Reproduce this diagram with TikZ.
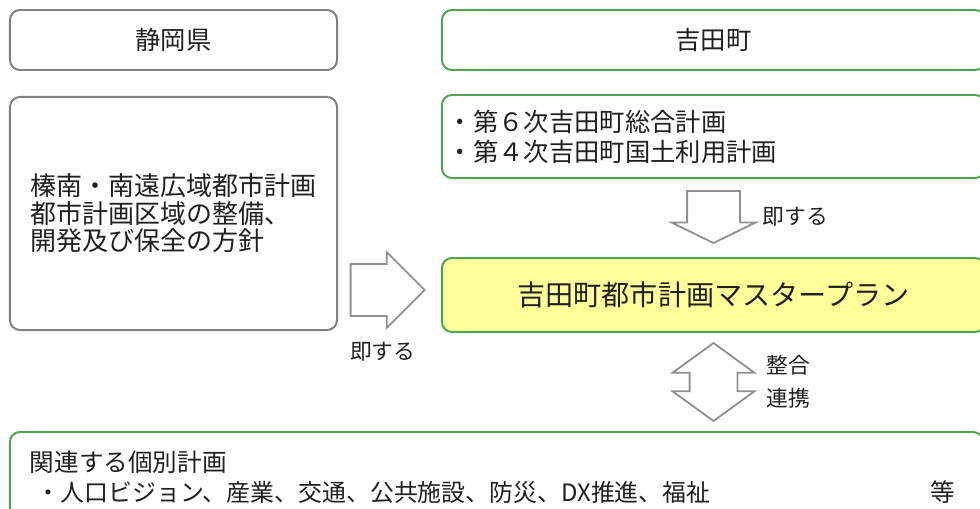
\documentclass[tikz,border=0pt]{standalone}
\usepackage{fontspec}
\setmainfont{Noto Sans CJK JP}
\usetikzlibrary{positioning,calc,shapes.arrows}
\definecolor{boxgray}{HTML}{808080}
\definecolor{boxgreen}{HTML}{4FA54F}
\definecolor{planyellow}{HTML}{FFFF99}
\definecolor{arrowgray}{HTML}{909090}
\definecolor{textgray}{HTML}{202020}
\tikzstyle{box}=[draw,line width=1.4pt,rounded corners=0.25cm,fill=white,text=textgray,inner sep=0]
\tikzstyle{kenbox}=[box,draw=boxgray]
\tikzstyle{townbox}=[box,draw=boxgreen]
\tikzstyle{blockarrow}=[draw=arrowgray,line width=1.3pt,fill=white,inner xsep=0]
\tikzstyle{lbl}=[text=textgray,inner sep=0,align=left,font=\fontsize{15.5}{23.5}\selectfont]

\begin{document}
\begin{tikzpicture}[x=0.025cm,y=-0.025cm]
    \useasboundingbox (0,0) rectangle (980,508);
    \node[kenbox,minimum width=8.175cm,minimum height=1.5cm,font=\fontsize{18}{20}\selectfont] (ken) at (173.5,40) {静岡県};
    \node[townbox,minimum width=13.575cm,minimum height=1.5cm,font=\fontsize{18}{20}\selectfont] (town) at (713.5,40) {吉田町};
    \node[kenbox,minimum width=8.175cm,minimum height=5.825cm,align=left,font=\fontsize{18.5}{19.6}\selectfont] (kouiki) at (173.5,213.5) {榛南・南遠広域都市計画\\都市計画区域の整備、\\開発及び保全の方針};
    \node[townbox,minimum height=2.075cm,text width=13.275cm,inner xsep=0.15cm,align=left,font=\fontsize{18}{21.3}\selectfont] (plans) at (713.5,136.5) {・第６次吉田町総合計画\\・第４次吉田町国土利用計画};
    \node[townbox,fill=planyellow,minimum width=13.575cm,minimum height=1.85cm,font=\fontsize{20}{22}\selectfont] (master) at (713.5,295) {吉田町都市計画マスタープラン};
    \node[townbox,minimum height=2.25cm,text width=24.325cm,align=left,font=\fontsize{17.5}{21.3}\selectfont] (kobetsu) at (496.5,477) {\hspace*{0.5cm}関連する個別計画\\\hspace*{0.675cm}{\fontsize{17}{21.3}\selectfont ・人口ビジョン、産業、交通、公共施設、防災、DX推進、福祉}\hspace{\stretch{1}}等\hspace*{0.7cm}};
    \node[blockarrow,single arrow,anchor=tip,single arrow tip angle=90,single arrow head extend=0.3cm,inner ysep=0.625cm,minimum height=1.85cm] (rarrow) at ([xshift=-0.375cm,yshift=0.125cm]master.west) {};
    \node[blockarrow,single arrow,rotate=-90,anchor=tip,single arrow tip angle=128,single arrow head extend=0.3875cm,inner ysep=0.6375cm,minimum height=1.3cm] (darrow) at ([yshift=0.325cm]master.north) {};
    \node[blockarrow,double arrow,rotate=90,double arrow tip angle=108,double arrow head extend=0.425cm,inner ysep=0.575cm,minimum height=1.95cm] (barrow) at ($(master.south)!0.5!(master.south |- kobetsu.north)$) {};
    \node[lbl,below=1.3cm of rarrow.tail,anchor=north west] (sokusu1) {即する};
    \node[lbl,right=1.225cm of master.north,anchor=west,yshift=1cm] (sokusu2) {即する};
    \node[lbl,right=1.325cm of barrow.center] (seigou) {整合\\連携};
\end{tikzpicture}
\end{document}
